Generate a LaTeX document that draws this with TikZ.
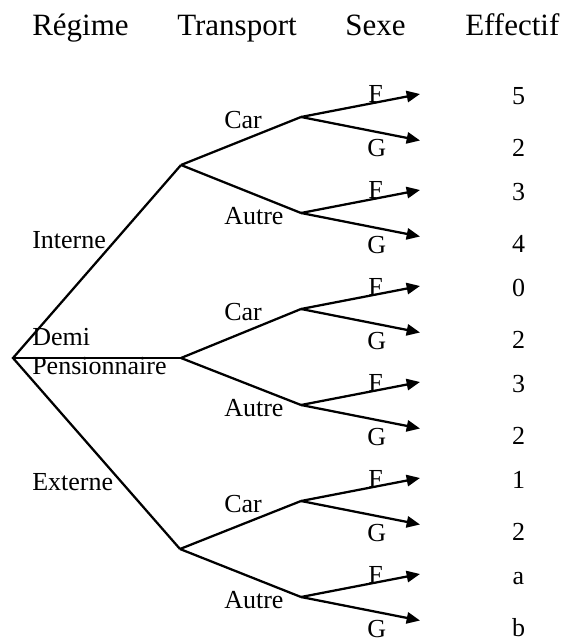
\documentclass[tikz,border=0pt]{standalone}
\usepackage{fontspec}
\setmainfont{Liberation Serif}
\usetikzlibrary{arrows.meta}
\begin{document}
\begin{tikzpicture}[x=0.75pt,y=-0.75pt,
  branch/.style={line width=1.7pt,line join=miter},
  arrowbranch/.style={line width=1.7pt,-{Triangle[length=10pt,width=8.5pt]}},
  head/.style={font=\fontsize{23.25}{28}\selectfont,anchor=base west,inner sep=0pt},
  lab/.style={font=\fontsize{19.5}{23}\selectfont,anchor=base west,inner sep=0pt},
  num/.style={font=\fontsize{19.5}{23}\selectfont,anchor=base,inner sep=0pt}]
\useasboundingbox (0,0) rectangle (566,641);
% headers
\node[head] (h1) at (32,36) {Régime};
\node[head] (h2) at (177,36) {Transport};
\node[head] (h3) at (345,36) {Sexe};
\node[head] (h4) at (465,36) {Effectif};
% branch points
\coordinate (R) at (13,358);
\coordinate (I) at (181,165);
\coordinate (D) at (181,358);
\coordinate (E) at (180,549);
\draw[branch] (I) -- (R) -- (E);
\draw[branch] (R) -- (D);
% regime labels
\node[lab] (lI) at (32,248) {Interne};
\node[lab] (lD1) at (32,345) {Demi};
\node[lab] (lD2) at (32,374) {Pensionnaire};
\node[lab] (lE) at (32,490) {Externe};
% transport level
\foreach \n/\p/\y/\t/\a/\b in {IC/I/117/Car/5/2, IA/I/213/Autre/3/4, DC/D/309/Car/0/2, DA/D/405/Autre/3/2, EC/E/501/Car/1/2, EA/E/597/Autre/a/b}{
  \coordinate (\n) at (301,\y);
  \draw[branch] (\p) -- (\n);
  \coordinate (\n F) at (420,\y-23);
  \coordinate (\n G) at (420,\y+23.5);
  \draw[arrowbranch] (\n) -- (\n F);
  \draw[arrowbranch] (\n) -- (\n G);
  \node[lab] (l\n) at (224,\y+11.5) {\t};
  \node[lab] (l\n F) at (368,\y-14) {F};
  \node[lab] (l\n G) at (367,\y+40) {G};
  \node[num] (n\n F) at (518.5,\y-12.5) {\a};
  \node[num] (n\n G) at (518.5,\y+39.5) {\b};
}
\end{tikzpicture}
\end{document}
